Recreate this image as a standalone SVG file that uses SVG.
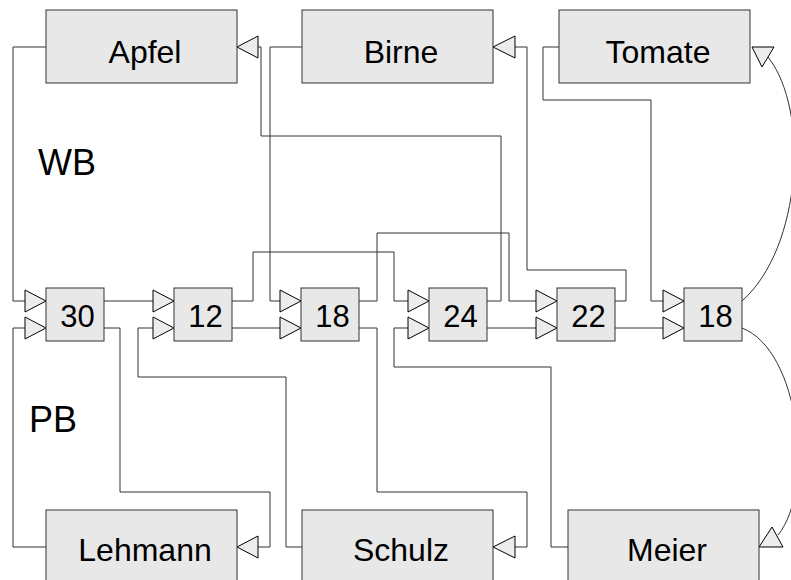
<svg xmlns="http://www.w3.org/2000/svg" width="791" height="580" viewBox="0 0 791 580">
<style>
.box{fill:#e8e8e8;stroke:#333;stroke-width:1}
.big{font-family:"Liberation Sans",Arial,sans-serif;font-size:32px;fill:#000;text-anchor:middle}
.num{font-family:"Liberation Sans",Arial,sans-serif;font-size:31px;fill:#000;text-anchor:middle}
.lbl{font-family:"Liberation Sans",Arial,sans-serif;font-size:36px;fill:#000}
.wire{fill:none;stroke:#333;stroke-width:1}
.tri{fill:#ececec;stroke:#000;stroke-width:1}
</style>
<rect width="791" height="580" fill="#fff"/>
<text class="lbl" x="38" y="175">WB</text>
<text class="lbl" x="29" y="432">PB</text>
<g id="connectors">
<path class="wire" d="M46,47 H13 V301 H25"/>
<path class="wire" d="M46,547 H13 V328 H25"/>
<path class="wire" d="M104,301 H153"/>
<path class="wire" d="M104,328 H120 V492 H270 V547 H258"/>
<path class="wire" d="M302,547 H286 V377 H138 V328 H153"/>
<path class="wire" d="M232,301 H253 V252 H394 V301 H408"/>
<path class="wire" d="M232,328 H280"/>
<path class="wire" d="M302,47 H270 V301 H280"/>
<path class="wire" d="M359,301 H377 V233 H509 V301 H536"/>
<path class="wire" d="M359,328 H377 V492 H527 V547 H515"/>
<path class="wire" d="M568,547 H551 V367 H394 V328 H408"/>
<path class="wire" d="M487,301 H501 V136 H261 V47 H258"/>
<path class="wire" d="M487,328 H536"/>
<path class="wire" d="M615,301 H626 V270 H527 V47 H515"/>
<path class="wire" d="M615,328 H663"/>
<path class="wire" d="M559,47 H543 V100 H651 V301 H663"/>
<path class="wire" d="M742,301 C802,248 810,110 768,57"/>
<path class="wire" d="M742,328 C800,350 815,490 778,535"/>
<polygon class="tri" points="237,47 258,36 258,58"/>
<polygon class="tri" points="493,47 515,36 515,58"/>
<polygon class="tri" points="752,47 774,47 762,67"/>
<polygon class="tri" points="237,547 258,536 258,558"/>
<polygon class="tri" points="493,547 515,536 515,558"/>
<polygon class="tri" points="759,547 783,547 772,527"/>
<polygon class="tri" points="25,290 46,301 25,312"/>
<polygon class="tri" points="25,317 46,328 25,339"/>
<polygon class="tri" points="153,290 174,301 153,312"/>
<polygon class="tri" points="153,317 174,328 153,339"/>
<polygon class="tri" points="280,290 301,301 280,312"/>
<polygon class="tri" points="280,317 301,328 280,339"/>
<polygon class="tri" points="408,290 429,301 408,312"/>
<polygon class="tri" points="408,317 429,328 408,339"/>
<polygon class="tri" points="536,290 557,301 536,312"/>
<polygon class="tri" points="536,317 557,328 536,339"/>
<polygon class="tri" points="663,290 684,301 663,312"/>
<polygon class="tri" points="663,317 684,328 663,339"/>
</g>
<g id="apfel"><rect class="box" x="46" y="10" width="191" height="73"/><text class="big" x="145" y="63">Apfel</text></g>
<g id="birne"><rect class="box" x="302" y="10" width="191" height="73"/><text class="big" x="401" y="63">Birne</text></g>
<g id="tomate"><rect class="box" x="559" y="10" width="191" height="73"/><text class="big" x="658" y="63">Tomate</text></g>
<g id="lehmann"><rect class="box" x="46" y="510" width="191" height="73"/><text class="big" x="145" y="561">Lehmann</text></g>
<g id="schulz"><rect class="box" x="302" y="510" width="191" height="73"/><text class="big" x="401" y="561">Schulz</text></g>
<g id="meier"><rect class="box" x="568" y="510" width="191" height="73"/><text class="big" x="667" y="561">Meier</text></g>
<g id="n30"><rect class="box" x="46" y="288" width="58" height="53"/><text class="num" x="77.5" y="327">30</text></g>
<g id="n12"><rect class="box" x="174" y="288" width="58" height="53"/><text class="num" x="205.5" y="327">12</text></g>
<g id="n18a"><rect class="box" x="301" y="288" width="58" height="53"/><text class="num" x="332.5" y="327">18</text></g>
<g id="n24"><rect class="box" x="429" y="288" width="58" height="53"/><text class="num" x="460.5" y="327">24</text></g>
<g id="n22"><rect class="box" x="557" y="288" width="58" height="53"/><text class="num" x="588.5" y="327">22</text></g>
<g id="n18b"><rect class="box" x="684" y="288" width="58" height="53"/><text class="num" x="715.5" y="327">18</text></g>
</svg>
